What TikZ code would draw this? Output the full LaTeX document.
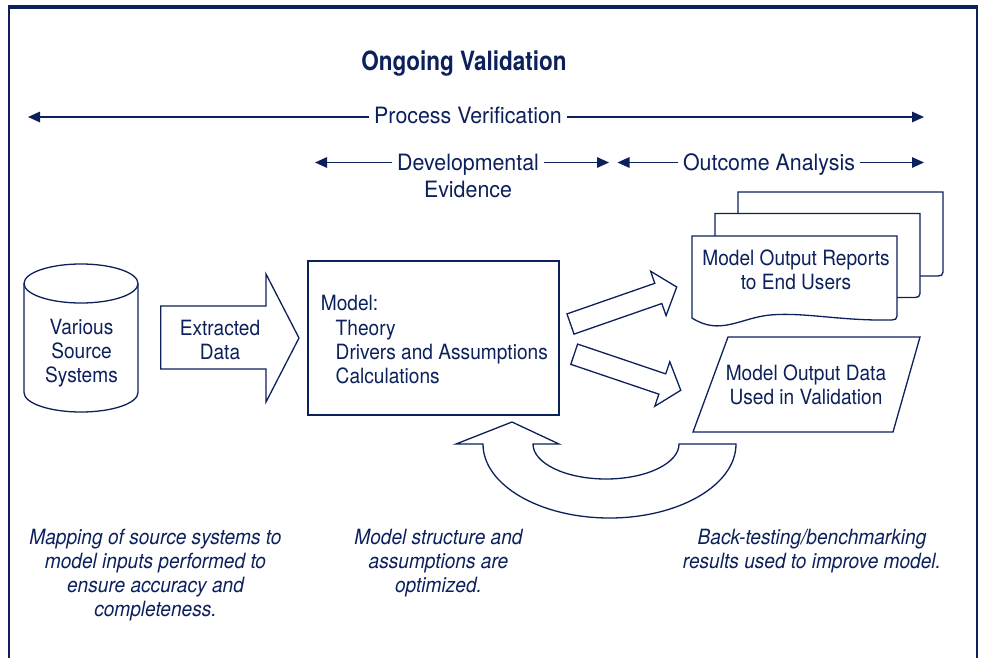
\documentclass[tikz,border=0pt]{standalone}
\usepackage{fontspec}
\setmainfont{TeX Gyre Heros}[FakeStretch=0.91]
\newfontfamily\hdrfont{TeX Gyre Heros}[FakeStretch=0.95]
\newfontfamily\ttlfont{TeX Gyre Heros}[FakeStretch=0.85]
\usetikzlibrary{arrows.meta}
\definecolor{navy}{RGB}{12,32,92}
\begin{document}
\begin{tikzpicture}[x=1pt,y=-1pt,
  txt/.style={text=navy,font=\fontsize{21}{24.3}\selectfont,inner sep=0pt,align=center},
  hdr/.style={text=navy,font=\fontsize{22.5}{26}\selectfont\hdrfont,inner sep=0pt,outer xsep=5pt,anchor=base},
  itx/.style={text=navy,font=\fontsize{21}{24}\selectfont\itshape,inner sep=0pt,align=center},
  outl/.style={draw=navy,line width=1.3pt,fill=white,line join=miter},
  harrow/.style={draw=navy,line width=1.5pt,-{Triangle[length=12pt,width=10.5pt]}}]
\useasboundingbox (0,0) rectangle (982,658);
\fill[white] (0,0) rectangle (982,658);
% frame
\draw[navy,line width=2.6pt] (9,658) -- (9,7) -- (977,7) -- (977,658);
\draw[navy,line width=3.6pt] (7.7,7) -- (978.3,7);
% title
\node[text=navy,inner sep=0pt,anchor=base,font=\fontsize{26.5}{30}\selectfont\ttlfont\bfseries] (title) at (464,71) {Ongoing Validation};
% process verification
\node[hdr] (pv) at (468,123.5) {Process Verification};
\coordinate (pvl) at (28,117);
\coordinate (pvr) at (924,117);
\draw[harrow] (pv.west |- pvl) -- (pvl);
\draw[harrow] (pv.east |- pvr) -- (pvr);
% developmental evidence
\node[hdr] (dev) at (468,170.5) {Developmental};
\node[hdr] (evi) at (468,197) {Evidence};
\coordinate (devl) at (315,162.5);
\coordinate (devr) at (609,162.5);
\draw[harrow] (dev.west |- devl) -- (devl);
\draw[harrow] (dev.east |- devr) -- (devr);
% outcome analysis
\node[hdr] (oa) at (769,170.5) {Outcome Analysis};
\coordinate (oal) at (617.5,162.5);
\coordinate (oar) at (924,162.5);
\draw[harrow] (oa.west |- oal) -- (oal);
\draw[harrow] (oa.east |- oar) -- (oar);
% cylinder
\draw[outl] (24,283.5) -- (24,392.5) arc[start angle=180,end angle=360,x radius=57pt,y radius=19.5pt] -- (138,283.5);
\draw[outl] (81,283.5) ellipse[x radius=57pt,y radius=19.5pt];
\node[txt] (src) at (81.5,353) {Various\\Source\\Systems};
% extracted data arrow
\draw[outl] (160.7,306) -- (266,306) -- (266,274) -- (299,338) -- (266,402) -- (266,369) -- (160.7,369) -- cycle;
\node[txt] (ext) at (220,340) {Extracted\\Data};
% model box
\node[draw=navy,line width=1.3pt,minimum width=251pt,minimum height=154pt,inner sep=0pt] (model) at (433.5,338) {};
\node[txt,anchor=base west] (m1) at (320.7,310) {Model:};
\node[txt,anchor=base west] (m2) at (335.5,335) {Theory};
\node[txt,anchor=base west] (m3) at (335.5,359.5) {Drivers and Assumptions};
\node[txt,anchor=base west] (m4) at (335.5,383.5) {Calculations};
% arrows to outputs
\begin{scope}[shift={(570.5,324)},rotate=19.2]
\draw[outl] (0,-10.7) -- (93,-10.7) -- (93,-23.5) -- (112.5,0) -- (93,23.5) -- (93,10.7) -- (0,10.7) -- cycle;
\end{scope}
\begin{scope}[shift={(574.2,354.2)},rotate=-18.7]
\draw[outl] (0,-10.7) -- (93,-10.7) -- (93,-23.5) -- (112.5,0) -- (93,23.5) -- (93,10.7) -- (0,10.7) -- cycle;
\end{scope}
% document stack
\foreach \dx/\dy in {46/-44,23/-22.5,0/0}{
\begin{scope}[shift={(\dx,\dy)}]
\draw[outl] (692,236) -- (897,236) -- (897,316) .. controls (897,319) and (895,320) .. (892,320) .. controls (840,321) and (805,312) .. (770,315) .. controls (740,318) and (720,336) .. (692,318) -- cycle;
\end{scope}}
\node[txt] (rep) at (796,270) {Model Output Reports\\to End Users};
% parallelogram
\draw[outl] (728,337) -- (920,337) -- (893,432) -- (693,432) -- cycle;
\node[txt] (dat) at (806,385) {Model Output Data\\Used in Validation};
% feedback arrow
\draw[outl] (483,444) -- (456,444) -- (512,422) -- (559,444) -- (533,444)
  arc[start angle=180,end angle=360,x radius=73pt,y radius=35pt] -- (736,444)
  arc[start angle=0,end angle=-180,x radius=126.5pt,y radius=74pt] -- cycle;
% bottom notes
\node[itx,anchor=north] (n1) at (155.5,529) {Mapping of source systems to\\model inputs performed to\\ensure accuracy and\\completeness.};
\node[itx,anchor=north] (n2) at (438.5,529) {Model structure and\\assumptions are\\optimized.};
\node[itx,anchor=north] (n3) at (812,529) {Back-testing/benchmarking\\results used to improve model.};
\end{tikzpicture}
\end{document}
